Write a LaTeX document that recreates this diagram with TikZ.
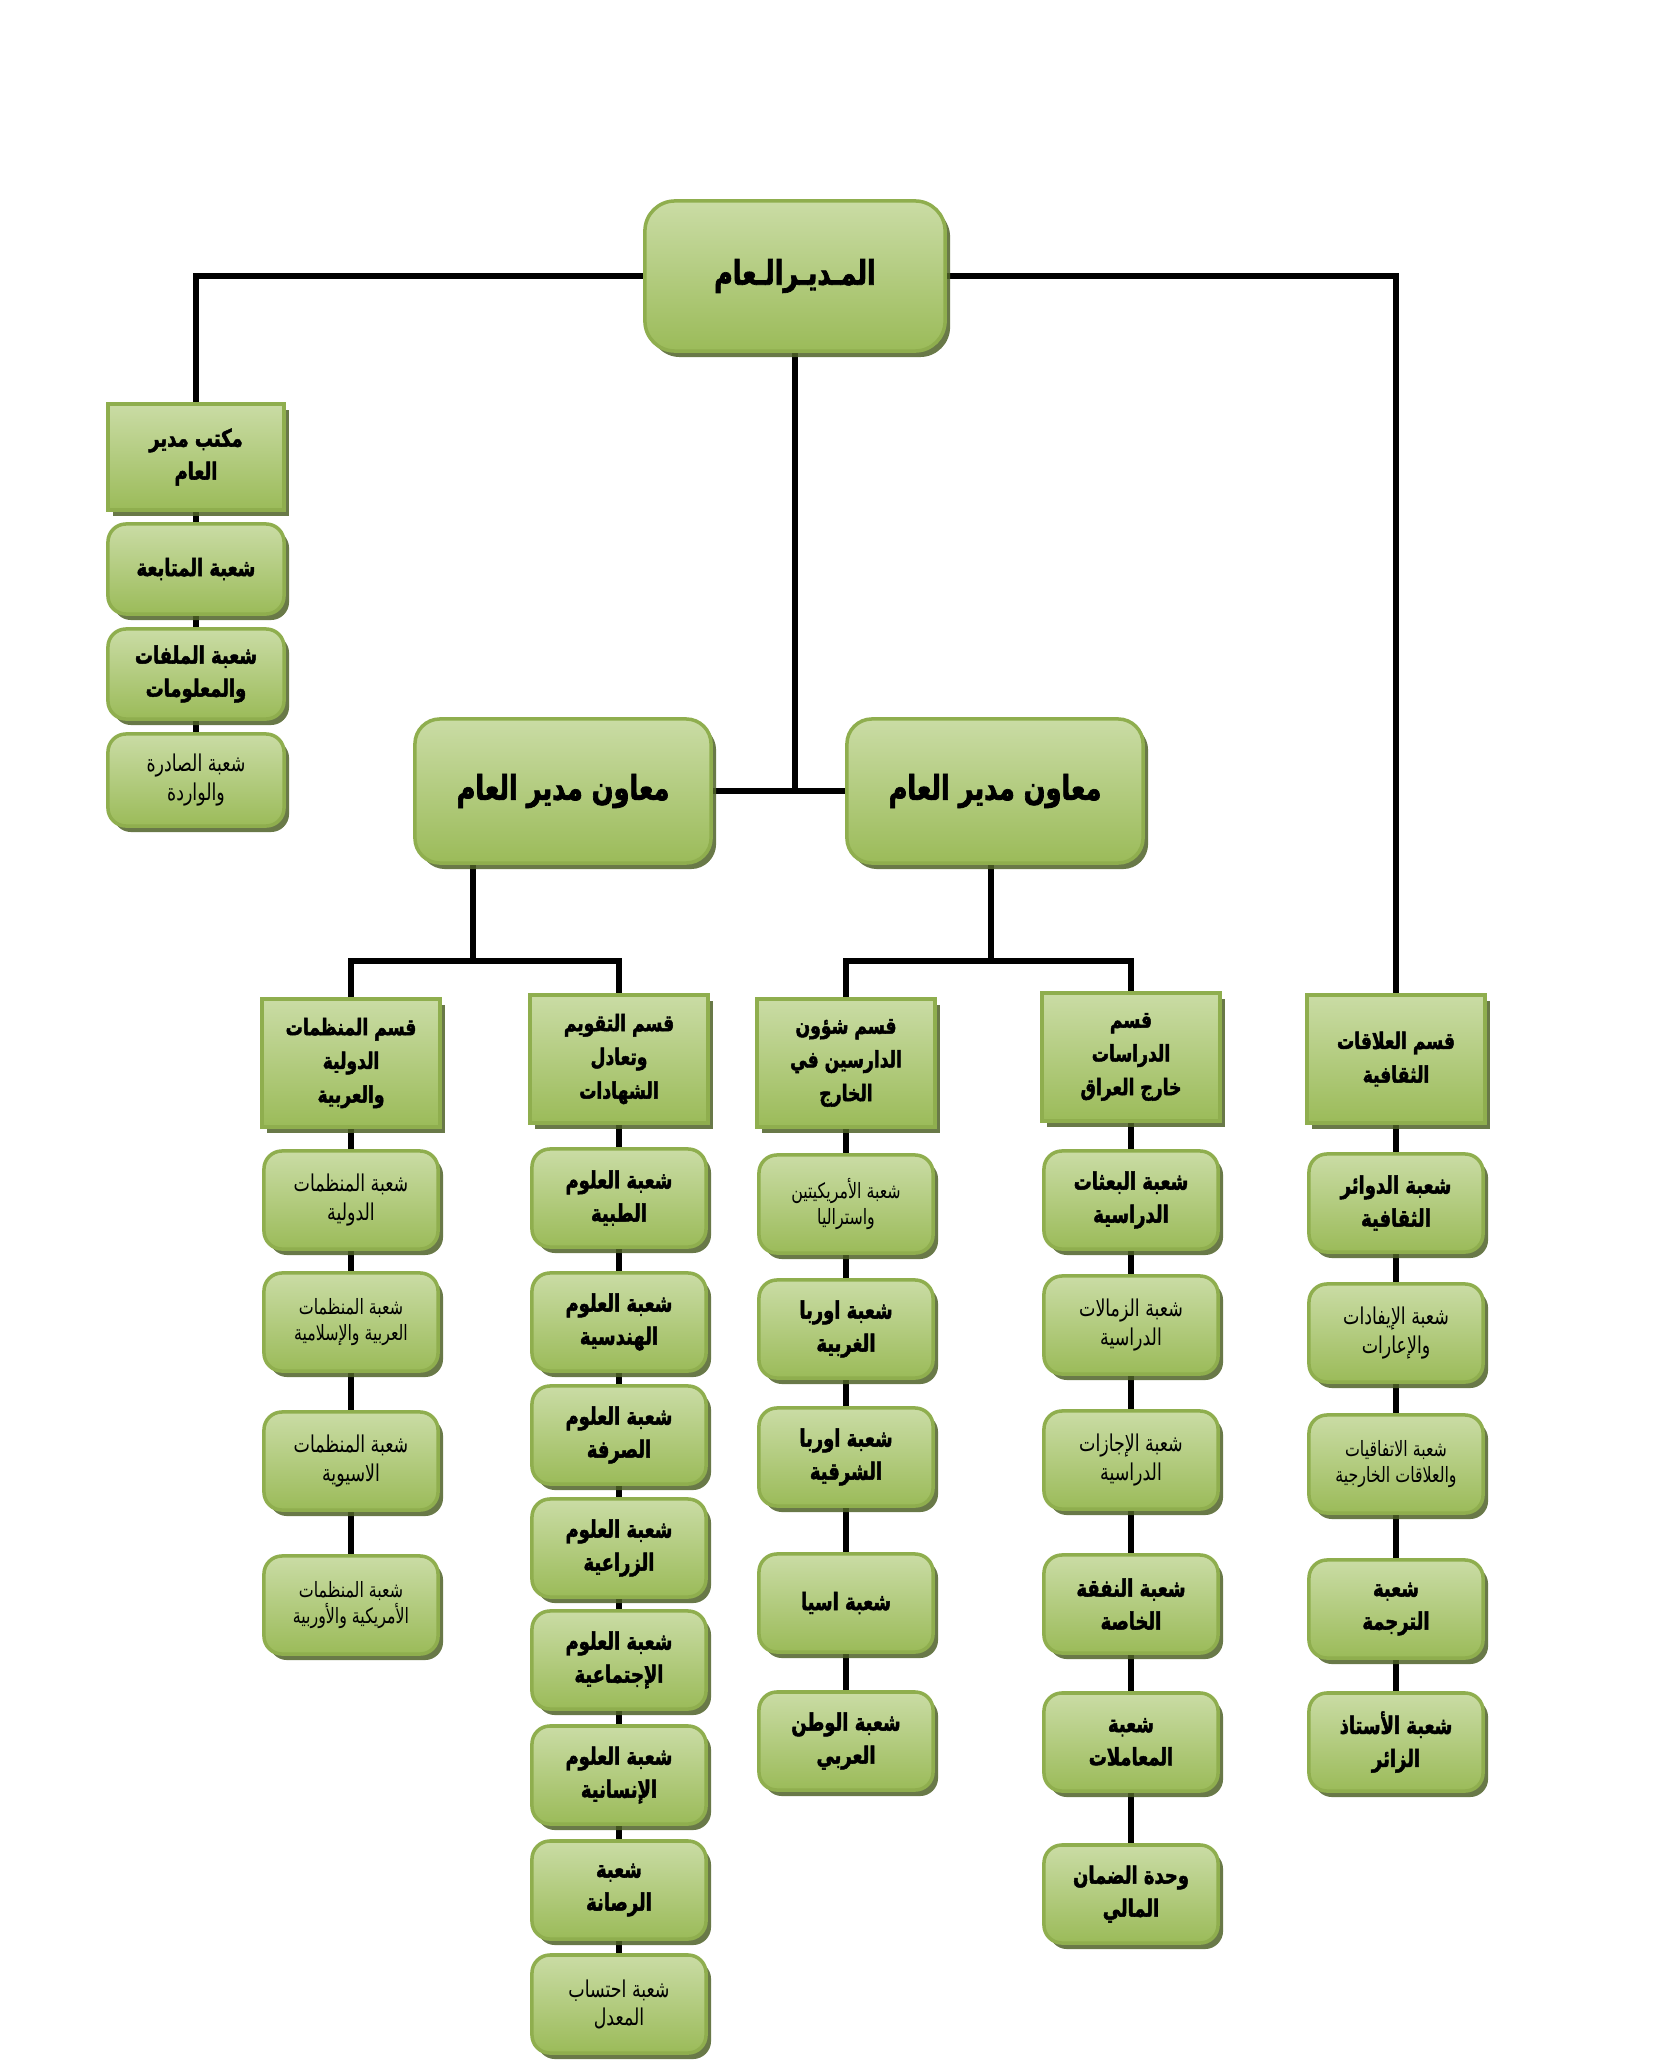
\documentclass[tikz,border=0pt]{standalone}
\usepackage{fontspec}
\newfontfamily\ar[Script=Arabic,FakeStretch=0.75,BoldFeatures={FakeBold=2}]{DejaVu Sans}
\TeXXeTstate=1
\usetikzlibrary{shadows,backgrounds}
\newcommand\arl[1]{\beginR #1\endR}
\definecolor{boxtop}{HTML}{CADCA5}
\definecolor{boxbot}{HTML}{9BBB59}
\definecolor{boxline}{HTML}{8FAE4E}
\definecolor{shadowc}{HTML}{4F6228}
\tikzset{
 box/.style={draw=boxline, line width=1pt, top color=boxtop, bottom color=boxbot,
   drop shadow={shadow xshift=0.05cm, shadow yshift=-0.06cm, fill=shadowc, opacity=0.85},
   align=center, inner sep=0pt, font=\ar\bfseries\fontsize{6.8}{9.4}\selectfont},
 rbox/.style={box, rounded corners=0.18cm},
 item/.style={rbox, minimum width=1.74cm, minimum height=0.98cm},
 head/.style={box, minimum width=1.78cm, minimum height=1.28cm, font=\ar\bfseries\fontsize{6.5}{9.6}\selectfont},
 reg/.style={font=\ar\fontsize{6.6}{8}\selectfont},
 small/.style={font=\ar\fontsize{6}{7.5}\selectfont},
 link/.style={line width=1.8pt, black}
}
\begin{document}
\begin{tikzpicture}[x=0.01cm,y=-0.01cm]
\useasboundingbox (0,0) rectangle (1654,2070);
% top
\node[rbox, minimum width=3.0cm, minimum height=1.5cm, rounded corners=0.3cm,
  font=\ar\bfseries\fontsize{9.6}{12}\selectfont] (dir) at (795,276) {\arl{المـديـرالـعام}};
% office column
\node[box, minimum width=1.76cm, minimum height=1.06cm] (office) at (196,457) {\arl{مكتب مدير}\\\arl{العام}};
\node[rbox, minimum width=1.76cm, minimum height=0.9cm] (mut) at (196,569) {\arl{شعبة المتابعة}};
\node[rbox, minimum width=1.76cm, minimum height=0.9cm] (malaf) at (196,674) {\arl{شعبة الملفات}\\\arl{والمعلومات}};
\node[rbox, minimum width=1.76cm, minimum height=0.92cm, reg] (sadira) at (196,780) {\arl{شعبة الصادرة}\\\arl{والواردة}};
% assistants
\node[rbox, minimum width=2.96cm, minimum height=1.44cm, rounded corners=0.25cm,
  font=\ar\bfseries\fontsize{9.7}{12}\selectfont] (a1) at (563,791) {\arl{معاون مدير العام}};
\node[rbox, minimum width=2.96cm, minimum height=1.44cm, rounded corners=0.25cm,
  font=\ar\bfseries\fontsize{9.7}{12}\selectfont] (a2) at (995,791) {\arl{معاون مدير العام}};
\coordinate (j1) at (473,961);
\coordinate (j2) at (991,961);
% heads
\node[head] (h1) at (351,1063) {\arl{قسم المنظمات}\\\arl{الدولية}\\\arl{والعربية}};
\node[head] (h2) at (619,1059) {\arl{قسم التقويم}\\\arl{وتعادل}\\\arl{الشهادات}};
\node[head] (h3) at (846,1063) {\arl{قسم شؤون}\\\arl{الدارسين في}\\\arl{الخارج}};
\node[head] (h4) at (1131,1057) {\arl{قسم}\\\arl{الدراسات}\\\arl{خارج العراق}};
\node[head] (h5) at (1396,1059) {\arl{قسم العلاقات}\\\arl{الثقافية}};
% column 1
\node[item, reg] (c1a) at (351,1200) {\arl{شعبة المنظمات}\\\arl{الدولية}};
\node[item, small] (c1b) at (351,1322) {\arl{شعبة المنظمات}\\\arl{العربية والإسلامية}};
\node[item, reg] (c1c) at (351,1461) {\arl{شعبة المنظمات}\\\arl{الاسيوية}};
\node[item, small] (c1d) at (351,1605) {\arl{شعبة المنظمات}\\\arl{الأمريكية والأوربية}};
% column 2
\node[item] (c2a) at (619,1198) {\arl{شعبة العلوم}\\\arl{الطبية}};
\node[item] (c2b) at (619,1322) {\arl{شعبة العلوم}\\\arl{الهندسية}};
\node[item] (c2c) at (619,1435) {\arl{شعبة العلوم}\\\arl{الصرفة}};
\node[item] (c2d) at (619,1548) {\arl{شعبة العلوم}\\\arl{الزراعية}};
\node[item] (c2e) at (619,1660) {\arl{شعبة العلوم}\\\arl{الإجتماعية}};
\node[item] (c2f) at (619,1775) {\arl{شعبة العلوم}\\\arl{الإنسانية}};
\node[item] (c2g) at (619,1890) {\arl{شعبة}\\\arl{الرصانة}};
\node[item, reg] (c2h) at (619,2004) {\arl{شعبة احتساب}\\\arl{المعدل}};
% column 3
\node[item, small] (c3a) at (846,1204) {\arl{شعبة الأمريكيتين}\\\arl{واستراليا}};
\node[item] (c3b) at (846,1329) {\arl{شعبة اوربا}\\\arl{الغربية}};
\node[item] (c3c) at (846,1457) {\arl{شعبة اوربا}\\\arl{الشرقية}};
\node[item] (c3d) at (846,1603) {\arl{شعبة اسيا}};
\node[item] (c3e) at (846,1741) {\arl{شعبة الوطن}\\\arl{العربي}};
% column 4
\node[item] (c4a) at (1131,1200) {\arl{شعبة البعثات}\\\arl{الدراسية}};
\node[item, reg] (c4b) at (1131,1325) {\arl{شعبة الزمالات}\\\arl{الدراسية}};
\node[item, reg] (c4c) at (1131,1460) {\arl{شعبة الإجازات}\\\arl{الدراسية}};
\node[item] (c4d) at (1131,1604) {\arl{شعبة النفقة}\\\arl{الخاصة}};
\node[item] (c4e) at (1131,1742) {\arl{شعبة}\\\arl{المعاملات}};
\node[item] (c4f) at (1131,1894) {\arl{وحدة الضمان}\\\arl{المالي}};
% column 5
\node[item] (c5a) at (1396,1203) {\arl{شعبة الدوائر}\\\arl{الثقافية}};
\node[item, reg] (c5b) at (1396,1333) {\arl{شعبة الإيفادات}\\\arl{والإعارات}};
\node[item, small] (c5c) at (1396,1464) {\arl{شعبة الاتفاقيات}\\\arl{والعلاقات الخارجية}};
\node[item] (c5d) at (1396,1609) {\arl{شعبة}\\\arl{الترجمة}};
\node[item] (c5e) at (1396,1742) {\arl{شعبة الأستاذ}\\\arl{الزائر}};
% connectors
\begin{scope}[on background layer]
\draw[link] (dir.west) -| (office.north);
\draw[link] (dir.east) -| (h5.north);
\draw[link] (dir.south) -- (dir.south |- a1.east);
\draw[link] (a1.east) -- (a2.west);
\draw[link] (j1 |- a1.south) -- (j1);
\draw[link] (j2 |- a2.south) -- (j2);
\draw[link] (h1.north) |- (j1) -| (h2.north);
\draw[link] (h3.north) |- (j2) -| (h4.north);
\foreach \a/\b in {office/mut, mut/malaf, malaf/sadira,
  h1/c1a, c1a/c1b, c1b/c1c, c1c/c1d,
  h2/c2a, c2a/c2b, c2b/c2c, c2c/c2d, c2d/c2e, c2e/c2f, c2f/c2g, c2g/c2h,
  h3/c3a, c3a/c3b, c3b/c3c, c3c/c3d, c3d/c3e,
  h4/c4a, c4a/c4b, c4b/c4c, c4c/c4d, c4d/c4e, c4e/c4f,
  h5/c5a, c5a/c5b, c5b/c5c, c5c/c5d, c5d/c5e}
  \draw[link] (\a.south) -- (\b.north);
\end{scope}
\end{tikzpicture}
\end{document}
